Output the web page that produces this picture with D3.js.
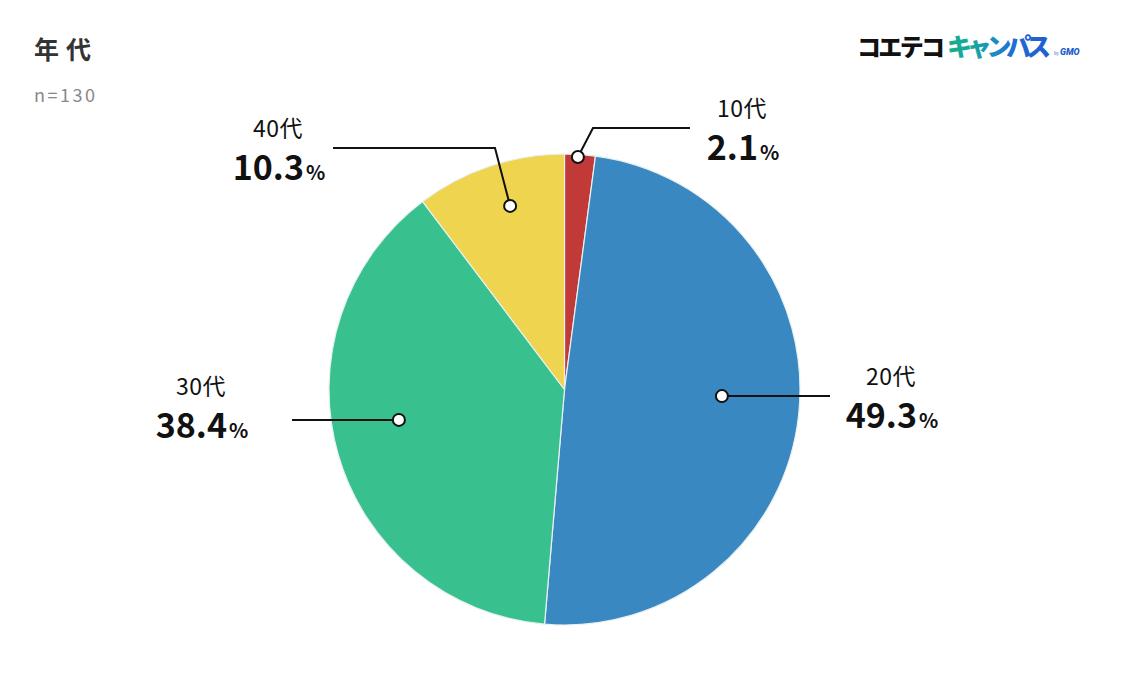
<!DOCTYPE html>
<html><head><meta charset="utf-8">
<script src="https://cdn.jsdelivr.net/npm/d3@7"></script>
<style>body{margin:0;background:#fff;} svg{display:block;}</style>
</head><body>
<svg id="chart" width="1129" height="692"></svg>
<script>
const categories = ["10代", "20代", "30代", "40代"];
const values = [2.1, 49.3, 38.4, 10.3];
const colors = ["#c23a37", "#3a88c1", "#38c18f", "#eed44f"];
// annotation layout: dot polar position (deg clockwise from top, radius fraction), leader bend/end, text position
const labelLayout = [
  {ang: 3.3, rf: 0.989, bend: [593,128], end: [690,128], tx: 742, ty: 117},
  {ang: 92.4, rf: 0.669, bend: null, end: [830,396], tx: 891, ty: 385},
  {ang: 259.6, rf: 0.715, bend: null, end: [292,420], tx: 201, ty: 395},
  {ang: 343.5, rf: 0.813, bend: [495,148], end: [333,148], tx: 278, ty: 137}
];

const svg = d3.select("#chart");
const cx = 564.5, cy = 389.5, R = 235.5;
const font = "'Noto Sans CJK JP','Noto Sans',sans-serif";

// title
svg.append("text").attr("x", 34).attr("y", 59).attr("font-family", font)
  .attr("font-size", 25).attr("font-weight", 700).attr("fill", "#333").attr("letter-spacing", 7).text("年代");
svg.append("text").attr("x", 34).attr("y", 102).attr("font-family", font)
  .attr("font-size", 18).attr("fill", "#888").attr("letter-spacing", 2.5).text("n=130");

// logo
const defs = svg.append("defs");
const grad = defs.append("linearGradient").attr("id", "lg")
  .attr("gradientUnits", "userSpaceOnUse").attr("x1", 947).attr("x2", 1051).attr("y1", 0).attr("y2", 0);
grad.append("stop").attr("offset", "0").attr("stop-color", "#14ae8c");
grad.append("stop").attr("offset", "0.25").attr("stop-color", "#16a89e");
grad.append("stop").attr("offset", "0.45").attr("stop-color", "#1a8ec2");
grad.append("stop").attr("offset", "0.65").attr("stop-color", "#1e6cd5");
grad.append("stop").attr("offset", "1").attr("stop-color", "#1e5ecf");
svg.append("text").attr("x", 857).attr("y", 56).attr("font-family", font)
  .attr("font-size", 24).attr("font-weight", 900).attr("fill", "#111").attr("textLength", 88).text("コエテコ");
svg.append("text").attr("x", 947).attr("y", 56).attr("font-family", font)
  .attr("font-size", 25).attr("font-weight", 900).attr("fill", "url(#lg)").attr("textLength", 104).text("キャンパス");
svg.append("text").attr("x", 1054).attr("y", 55).attr("font-family", font)
  .attr("font-size", 4).attr("fill", "#1e5fd0").text("by");
svg.append("text").attr("x", 1060).attr("y", 55).attr("font-family", "Roboto, sans-serif")
  .attr("font-size", 9).attr("font-weight", 900).attr("font-style", "italic").attr("fill", "#1e5fd0").text("GMO");

// pie
const pie = d3.pie().sort(null).value(d => d);
const arcs = pie(values);
const arc = d3.arc().innerRadius(0).outerRadius(R);
const g = svg.append("g").attr("transform", `translate(${cx},${cy})`);
g.selectAll("path").data(arcs).join("path")
  .attr("d", arc).attr("fill", (d, i) => colors[i])
  .attr("stroke", "#e8f0f0").attr("stroke-width", 1.2);

// annotations
arcs.forEach((a, i) => {
  const L = labelLayout[i];
  const t = L.ang * Math.PI / 180;
  const px = cx + Math.sin(t) * R * L.rf, py = cy - Math.cos(t) * R * L.rf;
  const pts = [[px, py]];
  if (L.bend) pts.push(L.bend);
  pts.push(L.end);
  svg.append("path").attr("d", d3.line()(pts)).attr("fill", "none")
    .attr("stroke", "#111").attr("stroke-width", 2);
  svg.append("circle").attr("cx", px).attr("cy", py).attr("r", 6)
    .attr("fill", "#fff").attr("stroke", "#111").attr("stroke-width", 2);
  svg.append("text").attr("x", L.tx).attr("y", L.ty).attr("text-anchor", "middle")
    .attr("font-family", font).attr("font-size", 23).attr("letter-spacing", 0.5).attr("fill", "#111").text(categories[i]);
  const vt = svg.append("text").attr("x", L.tx + 1).attr("y", L.ty + 43).attr("text-anchor", "middle")
    .attr("font-family", font).attr("font-weight", 700).attr("fill", "#111");
  vt.append("tspan").attr("font-size", 34).text(d3.format(".1f")(values[i]));
  vt.append("tspan").attr("font-size", 20).attr("dx", 2).text("%");
});
</script>
</body></html>
